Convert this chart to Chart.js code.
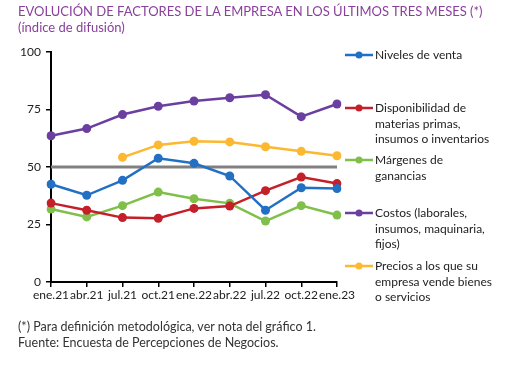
<!DOCTYPE html>
<html>
<head>
<meta charset="utf-8">
<script src="https://cdn.jsdelivr.net/npm/chart.js@4"></script>
<style>
  body { margin: 0; background: #fff; }
  #wrap { position: relative; width: 520px; height: 370px; font-family: Lato, sans-serif; }
  #title { position: absolute; left: 18px; top: 3px; color: #8a3f9c; font-size: 13px; line-height: 16px; }
  #foot { position: absolute; left: 18px; top: 319px; color: #333; font-size: 12.5px; line-height: 16px; }
  canvas { position: absolute; left: 0; top: 0; }
</style>
</head>
<body>
<div id="wrap">
  <canvas id="chart" width="520" height="370"></canvas>
  <div id="title">EVOLUCIÓN DE FACTORES DE LA EMPRESA EN LOS ÚLTIMOS TRES MESES (*)<br>(índice de difusión)</div>
  <div id="foot">(*) Para definición metodológica, ver nota del gráfico 1.<br>Fuente: Encuesta de Percepciones de Negocios.</div>
</div>
<script>
// Data
const periods = ["ene.21", "abr.21", "jul.21", "oct.21", "ene.22", "abr.22", "jul.22", "oct.22", "ene.23"];
const ventas = [42.5, 37.7, 44.2, 53.8, 51.6, 46.1, 31.2, 41.0, 40.6];
const disponibilidad = [34.3, 31.2, 28.0, 27.7, 32.0, 33.0, 39.7, 45.6, 42.8];
const margenes = [31.7, 28.3, 33.2, 39.1, 36.2, 34.2, 26.5, 33.2, 29.1];
const costos = [63.6, 66.7, 72.8, 76.4, 78.7, 80.1, 81.4, 71.9, 77.4];
const precios = [null, null, 54.2, 59.6, 61.2, 60.9, 58.8, 56.8, 54.9];
const neutral = [50, 50, 50, 50, 50, 50, 50, 50, 50];
const yTicks = [0, 25, 50, 75, 100];

const legendLabels = [
  ["Niveles de venta"],
  ["Disponibilidad de", "materias primas,", "insumos o inventarios"],
  ["Márgenes de", "ganancias"],
  ["Costos (laborales,", "insumos, maquinaria,", "fijos)"],
  ["Precios a los que su", "empresa vende bienes", "o servicios"]
];
const legendTops = [55, 108, 160, 213, 266];

function series(label, data, color) {
  return {
    label: label,
    data: data,
    borderColor: color,
    backgroundColor: color,
    borderWidth: 2.5,
    pointRadius: 4.5,
    pointHoverRadius: 4.5,
    pointBorderWidth: 0,
    tension: 0
  };
}

// Side legend with wrapped labels
const sideLegend = {
  id: "sideLegend",
  afterDraw(chart) {
    const ctx = chart.ctx;
    ctx.save();
    ctx.font = "12px Lato";
    ctx.textBaseline = "middle";
    legendLabels.forEach((lines, i) => {
      const ds = chart.data.datasets[i];
      const y = legendTops[i];
      ctx.strokeStyle = ds.borderColor;
      ctx.lineWidth = 2.5;
      ctx.beginPath();
      ctx.moveTo(345, y);
      ctx.lineTo(373, y);
      ctx.stroke();
      ctx.fillStyle = ds.borderColor;
      ctx.beginPath();
      ctx.arc(359, y, 3.5, 0, Math.PI * 2);
      ctx.fill();
      ctx.fillStyle = "#222";
      lines.forEach((t, j) => ctx.fillText(t, 375, y + j * 15.7));
    });
    ctx.restore();
  }
};

new Chart(document.getElementById("chart"), {
  type: "line",
  data: {
    labels: periods,
    datasets: [
      series("Niveles de venta", ventas, "#2270c4"),
      series("Disponibilidad de materias primas, insumos o inventarios", disponibilidad, "#c51f2a"),
      series("Márgenes de ganancias", margenes, "#80c04a"),
      series("Costos (laborales, insumos, maquinaria, fijos)", costos, "#6a3fa0"),
      series("Precios a los que su empresa vende bienes o servicios", precios, "#fcb830"),
      { label: "50", data: neutral, borderColor: "#808080", borderWidth: 3, pointRadius: 0 }
    ]
  },
  options: {
    responsive: false,
    animation: false,
    layout: { padding: { left: 0, top: 52, right: 183, bottom: 0 } },
    plugins: { legend: { display: false }, tooltip: { enabled: false } },
    scales: {
      x: {
        offset: false,
        border: { color: "#000", width: 2 },
        grid: { drawOnChartArea: false, color: "#000", tickLength: 5, lineWidth: 1.5 },
        ticks: { color: "#222", font: { family: "Lato", size: 12 }, maxRotation: 0, autoSkip: false, padding: 1 },
        afterFit(s) { s.height = 88; }
      },
      y: {
        min: 0,
        max: 100,
        afterBuildTicks(s) { s.ticks = yTicks.map(v => ({ value: v })); },
        border: { color: "#000", width: 2 },
        grid: { drawOnChartArea: false, color: "#000", tickLength: 5, lineWidth: 1.5 },
        ticks: { color: "#222", font: { family: "Lato", size: 12 }, padding: 5 },
        afterFit(s) { s.width = 51; }
      }
    }
  },
  plugins: [sideLegend]
});
</script>
</body>
</html>
